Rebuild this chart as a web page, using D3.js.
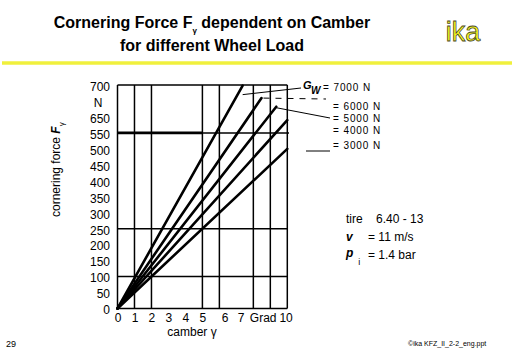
<!DOCTYPE html>
<html>
<head>
<meta charset="utf-8">
<script src="https://cdn.jsdelivr.net/npm/d3@7"></script>
<style>
  body { margin: 0; background: #fff; }
  svg { display: block; font-family: "Liberation Sans", Arial, sans-serif; }
</style>
</head>
<body>
<div class="chart"></div>
<script>
// wheel loads and the end points of each straight curve (camber in deg, force in N)
var loads = [7000, 6000, 5000, 4000, 3000];
var camberEnd = [7.37, 8.48, 9.35, 10, 10];
var forceEnd = [698, 659, 632, 590, 500];

var yTickValues = [700, 650, 600, 550, 500, 450, 400, 350, 300, 250, 200, 150, 100, 50, 0];
var yTickLabels = ["700", "N", "650", "550", "500", "450", "400", "350", "300", "250", "200", "150", "100", "50", "0"];
var xTickValues = [0, 1, 2, 3, 4, 5, 6.3, 7.25, 8.55, 9.9];
var xTickLabels = ["0", "1", "2", "3", "4", "5", "6", "7", "Grad", "10"];
var xGrid = [0, 1, 2, 5, 6, 8, 9, 10];
var yGrid = [0, 100, 250, 550, 700];

var width = 512, height = 354;

var svg = d3.select(".chart")
    .append("svg")
    .attr("width", width)
    .attr("height", height);

var x = d3.scaleLinear().domain([0, 10]).range([117.5, 287.3]);
var y = d3.scaleLinear().domain([0, 700]).range([308.5, 85]);

// title
var title = svg.append("text")
    .attr("x", 212)
    .attr("y", 28)
    .attr("text-anchor", "middle")
    .style("font-size", "16px")
    .style("font-weight", "bold");
title.append("tspan").text("Cornering Force F");
title.append("tspan").attr("dy", 5).style("font-size", "8px").text("γ");
title.append("tspan").attr("dy", -5).text(" dependent on Camber");

svg.append("text")
    .attr("x", 212)
    .attr("y", 51)
    .attr("text-anchor", "middle")
    .style("font-size", "16px")
    .style("font-weight", "bold")
    .text("for different Wheel Load");

svg.append("text")
    .attr("x", 463)
    .attr("y", 41)
    .attr("text-anchor", "middle")
    .style("font-size", "27px")
    .style("fill", "#ffff1a")
    .style("stroke", "#4a4a2a")
    .style("stroke-width", 0.8)
    .text("ika");

svg.append("line")
    .attr("x1", 2).attr("x2", width)
    .attr("y1", 63).attr("y2", 63)
    .style("stroke", "#f0f03c")
    .style("stroke-width", 3.5);

// grid
var grid = svg.append("g").attr("class", "grid");

grid.selectAll(".vgrid")
    .data(xGrid)
    .enter()
    .append("line")
    .attr("class", "vgrid")
    .attr("x1", function(d){return x(d)})
    .attr("x2", function(d){return x(d)})
    .attr("y1", y(0))
    .attr("y2", y(700))
    .style("stroke", "#000")
    .style("stroke-width", 1.5);

grid.selectAll(".hgrid")
    .data(yGrid)
    .enter()
    .append("line")
    .attr("class", "hgrid")
    .attr("x1", function(d){return d == 550 ? x(5) : x(0)})
    .attr("x2", function(d){return d == 550 ? x(10.1) : x(10)})
    .attr("y1", function(d){return y(d)})
    .attr("y2", function(d){return y(d)})
    .style("stroke", "#000")
    .style("stroke-width", 1.5);

// thick part of the 550 line
grid.append("line")
    .attr("x1", x(0)).attr("x2", x(5))
    .attr("y1", y(550)).attr("y2", y(550))
    .style("stroke", "#000")
    .style("stroke-width", 2.6);

// axes
var yAxis = d3.axisLeft(y)
    .tickValues(yTickValues)
    .tickSize(0)
    .tickPadding(0)
    .tickFormat(function(d, i){return yTickLabels[i]});

var yg = svg.append("g")
    .attr("transform", "translate(110,1.5)")
    .call(yAxis);
yg.select(".domain").remove();
yg.selectAll("text")
    .style("font-size", "12px")
    .style("font-family", "Liberation Sans, Arial, sans-serif")
    .style("fill", "#000");
yg.selectAll("text")
    .filter(function(d, i){return yTickLabels[i] == "N"})
    .attr("text-anchor", "middle")
    .attr("x", -12);

var xAxis = d3.axisBottom(x)
    .tickValues(xTickValues)
    .tickSize(0)
    .tickPadding(5)
    .tickFormat(function(d, i){return xTickLabels[i]});

var xg = svg.append("g")
    .attr("transform", "translate(0," + y(0) + ")")
    .call(xAxis);
xg.select(".domain").remove();
xg.selectAll("text")
    .style("font-size", "12px")
    .style("font-family", "Liberation Sans, Arial, sans-serif")
    .style("fill", "#000");

var xt = svg.append("text")
    .attr("x", 192)
    .attr("y", 336)
    .attr("text-anchor", "middle")
    .style("font-size", "12px");
xt.append("tspan").text("camber ");
xt.append("tspan").text("γ");

var yt = svg.append("text")
    .attr("transform", "translate(60,217) rotate(-90)")
    .style("font-size", "12px");
yt.append("tspan").text("cornering force ");
yt.append("tspan").style("font-weight", "bold").style("font-style", "italic").text("F");
yt.append("tspan").attr("dy", 4).style("font-size", "8px").text("γ");

// curves
var data = loads.map(function(d, i){
    return {load: d, points: [[0, 0], [camberEnd[i], forceEnd[i]]]};
});

var line = d3.line()
    .x(function(d){return x(d[0])})
    .y(function(d){return y(d[1])});

svg.selectAll(".curve")
    .data(data)
    .enter()
    .append("path")
    .attr("class", "curve")
    .attr("d", function(d){return line(d.points)})
    .style("fill", "none")
    .style("stroke", "#000")
    .style("stroke-width", 2.6)
    .style("stroke-linecap", "round");

// legend
var lg = svg.append("g").attr("class", "legend");

lg.append("text").attr("x", 303).attr("y", 89).style("font-size", "11px")
    .style("font-weight", "bold").style("font-style", "italic").text("G");
lg.append("text").attr("x", 311).attr("y", 94).style("font-size", "10px")
    .style("font-weight", "bold").style("font-style", "italic").text("W");

var legY = [91, 110, 122, 134, 149];
lg.selectAll(".legtext")
    .data(loads)
    .enter()
    .append("text")
    .attr("class", "legtext")
    .attr("x", function(d, i){return i == 0 ? 323 : 333})
    .attr("y", function(d, i){return legY[i]})
    .style("font-size", "10px")
    .style("letter-spacing", "0.9px")
    .text(function(d){return "= " + d + " N"});

lg.append("line")
    .attr("x1", x(camberEnd[0])).attr("y1", y(forceEnd[0]) + 9)
    .attr("x2", 301).attr("y2", 88)
    .style("stroke", "#000").style("stroke-width", 1);
lg.append("line")
    .attr("x1", x(camberEnd[1]) + 2).attr("y1", y(forceEnd[1]))
    .attr("x2", 326).attr("y2", 99)
    .style("stroke", "#000").style("stroke-width", 1)
    .style("stroke-dasharray", "6,6");
lg.append("line")
    .attr("x1", x(camberEnd[2])).attr("y1", y(forceEnd[2]) + 1)
    .attr("x2", 330).attr("y2", 118)
    .style("stroke", "#000").style("stroke-width", 1);
lg.append("line")
    .attr("x1", 306).attr("y1", 151)
    .attr("x2", 330).attr("y2", 151)
    .style("stroke", "#000").style("stroke-width", 1);

// test conditions
svg.append("text").attr("x", 346).attr("y", 223).style("font-size", "12px").text("tire");
svg.append("text").attr("x", 376).attr("y", 223).style("font-size", "12px").text("6.40 - 13");
svg.append("text").attr("x", 346).attr("y", 241).style("font-size", "12px")
    .style("font-weight", "bold").style("font-style", "italic").text("v");
svg.append("text").attr("x", 368).attr("y", 241).style("font-size", "12px").text("= 11 m/s");
var pt = svg.append("text").attr("x", 346).attr("y", 257).style("font-size", "12px");
pt.append("tspan").style("font-weight", "bold").style("font-style", "italic").text("p");
pt.append("tspan").attr("dx", 5).attr("dy", 8).style("font-size", "9px").text("i");
svg.append("text").attr("x", 368).attr("y", 259).style("font-size", "12px").text("= 1.4 bar");

// footer
svg.append("text").attr("x", 6).attr("y", 347).style("font-size", "9px").text("29");
svg.append("text").attr("x", 408).attr("y", 346).style("font-size", "7px").text("©ika KFZ_II_2-2_eng.ppt");
</script>
</body>
</html>
